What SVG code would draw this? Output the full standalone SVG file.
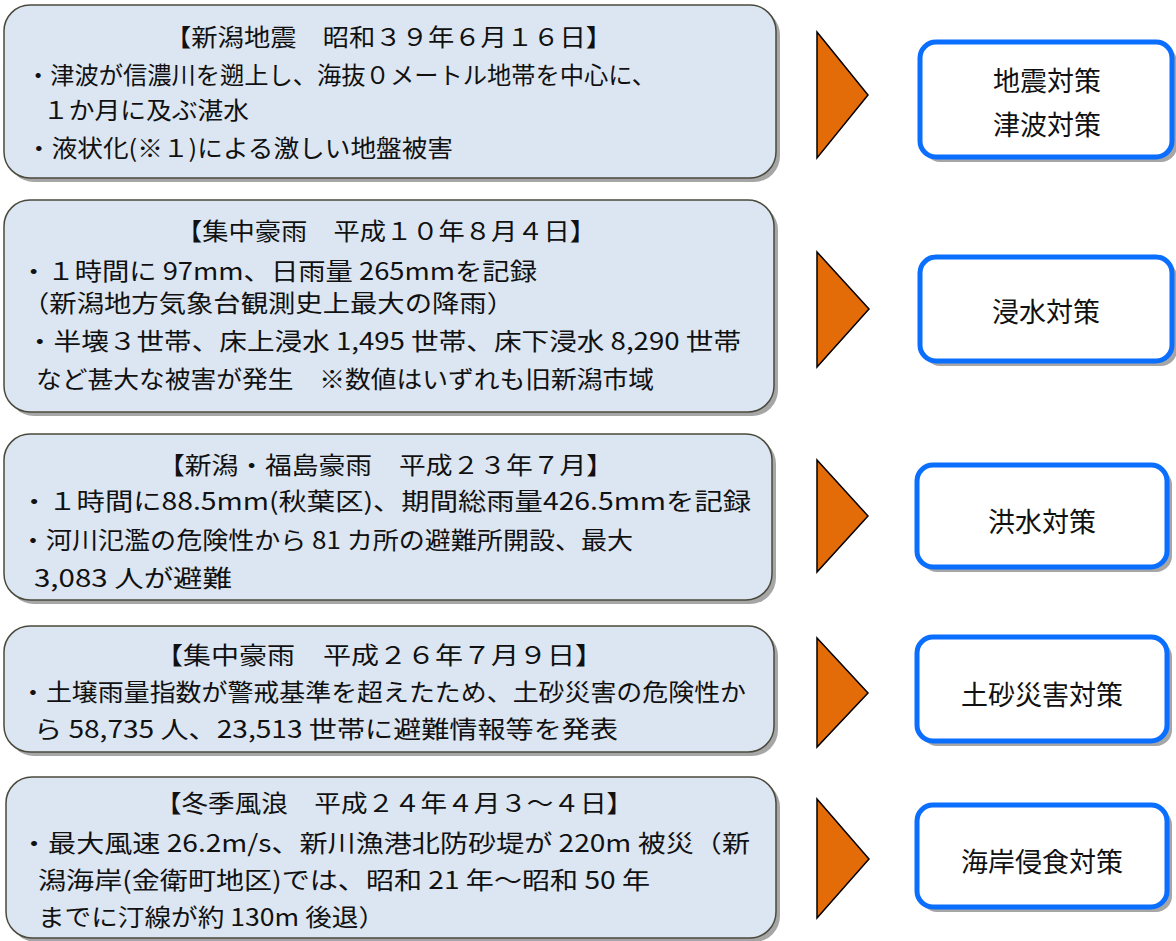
<svg xmlns="http://www.w3.org/2000/svg" width="1176" height="941" viewBox="0 0 1176 941">
<style>
.ev{fill:#DCE6F2;stroke:#4A4A3C;stroke-width:1.5}
.sh{fill:#A6A6A6}
.ms{fill:#FFFFFF;stroke:#0A6EFF;stroke-width:5}
.tri{fill:#E36C09;stroke:#000;stroke-width:1.5;stroke-linejoin:miter}
.t{font-family:"Noto Sans CJK JP","Noto Sans",sans-serif;font-size:24px;fill:#111}
.m{font-family:"Noto Sans CJK JP","Noto Sans",sans-serif;font-size:27px;fill:#111;text-anchor:middle}
</style>
<rect width="1176" height="941" fill="#FFFFFF"/>

<g id="event1">
<rect class="sh" x="8" y="9" width="772" height="173" rx="26"/>
<rect class="ev" x="4" y="5" width="772" height="173" rx="26"/>
<text class="t" x="165" y="46" textLength="447" lengthAdjust="spacingAndGlyphs">【新潟地震　昭和３９年６月１６日】</text>
<text class="t" x="26" y="84" textLength="630" lengthAdjust="spacingAndGlyphs">・津波が信濃川を遡上し、海抜０メートル地帯を中心に、</text>
<text class="t" x="43" y="119" textLength="206" lengthAdjust="spacingAndGlyphs">１か月に及ぶ湛水</text>
<text class="t" x="26" y="157" textLength="427" lengthAdjust="spacingAndGlyphs">・液状化(※１)による激しい地盤被害</text>
</g>

<g id="event2">
<rect class="sh" x="8" y="204" width="770" height="212" rx="26"/>
<rect class="ev" x="4" y="200" width="770" height="212" rx="26"/>
<text class="t" x="176" y="240" textLength="420" lengthAdjust="spacingAndGlyphs">【集中豪雨　平成１０年８月４日】</text>
<text class="t" x="20" y="280" textLength="517" lengthAdjust="spacingAndGlyphs">・１時間に 97mm、日雨量 265mmを記録</text>
<text class="t" x="22" y="312" textLength="492" lengthAdjust="spacingAndGlyphs">（新潟地方気象台観測史上最大の降雨）</text>
<text class="t" x="26" y="350" textLength="715" lengthAdjust="spacingAndGlyphs">・半壊３世帯、床上浸水 1,495 世帯、床下浸水 8,290 世帯</text>
<text class="t" x="36" y="388" textLength="618" lengthAdjust="spacingAndGlyphs">など甚大な被害が発生　※数値はいずれも旧新潟市域</text>
</g>

<g id="event3">
<rect class="sh" x="8" y="438" width="768" height="166" rx="26"/>
<rect class="ev" x="4" y="434" width="768" height="166" rx="26"/>
<text class="t" x="158" y="474" textLength="455" lengthAdjust="spacingAndGlyphs">【新潟・福島豪雨　平成２３年７月】</text>
<text class="t" x="20" y="510" textLength="731" lengthAdjust="spacingAndGlyphs">・１時間に88.5mm(秋葉区)、期間総雨量426.5mmを記録</text>
<text class="t" x="20" y="549" textLength="613" lengthAdjust="spacingAndGlyphs">・河川氾濫の危険性から 81 カ所の避難所開設、最大</text>
<text class="t" x="34" y="587" textLength="198" lengthAdjust="spacingAndGlyphs">3,083 人が避難</text>
</g>

<g id="event4">
<rect class="sh" x="8" y="630" width="770" height="126" rx="26"/>
<rect class="ev" x="4" y="626" width="770" height="126" rx="26"/>
<text class="t" x="155" y="664" textLength="448" lengthAdjust="spacingAndGlyphs">【集中豪雨　平成２６年７月９日】</text>
<text class="t" x="20" y="701" textLength="726" lengthAdjust="spacingAndGlyphs">・土壌雨量指数が警戒基準を超えたため、土砂災害の危険性か</text>
<text class="t" x="34" y="738" textLength="584" lengthAdjust="spacingAndGlyphs">ら 58,735 人、23,513 世帯に避難情報等を発表</text>
</g>

<g id="event5">
<rect class="sh" x="10" y="781" width="770" height="161" rx="26"/>
<rect class="ev" x="6" y="777" width="770" height="161" rx="26"/>
<text class="t" x="155" y="812" textLength="478" lengthAdjust="spacingAndGlyphs">【冬季風浪　平成２４年４月３～４日】</text>
<text class="t" x="20" y="852" textLength="730" lengthAdjust="spacingAndGlyphs">・最大風速 26.2m/s、新川漁港北防砂堤が 220m 被災（新</text>
<text class="t" x="38" y="889" textLength="612" lengthAdjust="spacingAndGlyphs">潟海岸(金衛町地区)では、昭和 21 年～昭和 50 年</text>
<text class="t" x="38" y="926" textLength="347" lengthAdjust="spacingAndGlyphs">までに汀線が約 130m 後退）</text>
</g>

<g id="connectors">
<polygon class="tri" points="817,32 868,95 817,158"/>
<polygon class="tri" points="817,252 869,309 817,367"/>
<polygon class="tri" points="817,460 868,516 817,572"/>
<polygon class="tri" points="817,638 868,693 817,747"/>
<polygon class="tri" points="817,799 869,859 817,918"/>
</g>

<g id="measure1">
<rect class="sh" x="924" y="46" width="253" height="116" rx="16"/>
<rect class="ms" x="920" y="42" width="252" height="115" rx="16"/>
<text class="m" x="1047" y="91">地震対策</text>
<text class="m" x="1047" y="135">津波対策</text>
</g>

<g id="measure2">
<rect class="sh" x="924" y="261" width="253" height="105" rx="16"/>
<rect class="ms" x="920" y="257" width="252" height="104" rx="16"/>
<text class="m" x="1046" y="322">浸水対策</text>
</g>

<g id="measure3">
<rect class="sh" x="921" y="469" width="251" height="103" rx="16"/>
<rect class="ms" x="917" y="465" width="250" height="102" rx="16"/>
<text class="m" x="1042" y="532">洪水対策</text>
</g>

<g id="measure4">
<rect class="sh" x="921" y="641" width="251" height="105" rx="16"/>
<rect class="ms" x="917" y="637" width="250" height="104" rx="16"/>
<text class="m" x="1042" y="705">土砂災害対策</text>
</g>

<g id="measure5">
<rect class="sh" x="921" y="809" width="251" height="103" rx="16"/>
<rect class="ms" x="917" y="805" width="250" height="102" rx="16"/>
<text class="m" x="1042" y="872">海岸侵食対策</text>
</g>
</svg>
